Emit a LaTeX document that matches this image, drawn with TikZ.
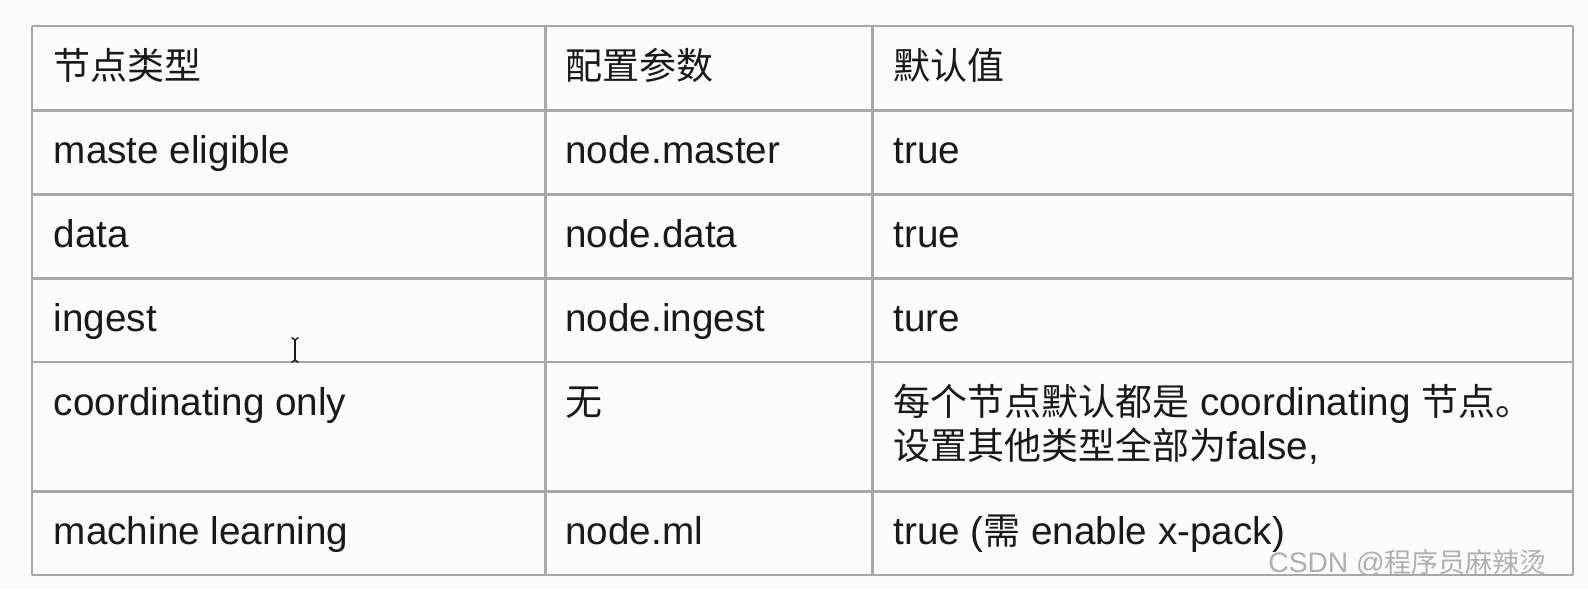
\documentclass[tikz,border=0pt]{standalone}
\usepackage{fontspec}
\setmainfont{Liberation Sans}[Scale=1.045]
\newfontfamily\cjk{Noto Sans CJK SC}
\definecolor{rulegray}{RGB}{168,168,168}
\definecolor{ink}{RGB}{25,25,25}
\definecolor{paper}{RGB}{251,252,251}
\definecolor{wmgray}{RGB}{175,175,175}

\begin{document}
\begin{tikzpicture}[x=0.5pt,y=-0.5pt,
  rule/.style={draw=rulegray,line width=1.3pt},
  cell/.style={anchor=base west,inner sep=0pt,text=ink,font=\fontsize{18.5}{22}\selectfont},
  wmark/.style={anchor=base west,inner sep=0pt,text=wmgray,font=\fontsize{13.5}{16}\selectfont}]
\useasboundingbox (0,0) rectangle (1588,590);
\fill[paper] (0,0) rectangle (1588,590);
%\draw[step=100] (0,0) grid (1588,590);
\foreach \y in {26,110.5,194.5,278.5,362,491.5,575}
  \draw[rule] (32,\y) -- (1573,\y);
\foreach \x in {32,545.5,872.5,1573}
  \draw[rule] (\x,26) -- (\x,575);
% header
\node[cell] (h1) at (53.5,79) {\cjk 节点类型};
\node[cell] (h2) at (565,79) {\cjk 配置参数};
\node[cell] (h3) at (893,79) {\cjk 默认值};
% rows
\node[cell] (m1) at (53.5,163.5) {maste eligible};
\node[cell] (m2) at (565,163.5) {node.master};
\node[cell] (m3) at (893,163.5) {true};
\node[cell] (d1) at (53.5,247.5) {data};
\node[cell] (d2) at (565,247.5) {node.data};
\node[cell] (d3) at (893,247.5) {true};
\node[cell] (i1) at (53.5,331.5) {ingest};
\node[cell] (i2) at (565,331.5) {node.ingest};
\node[cell] (i3) at (893,331.5) {ture};
\node[cell] (c1) at (53.5,415) {coordinating only};
\node[cell] (c2) at (565,415) {\cjk 无};
\node[cell] (c3) at (893,415) {{\cjk 每个节点默认都是} coordinating {\cjk 节点。}};
\node[cell] (c3b) at ([yshift=-22pt]c3.base west) {{\cjk 设置其他类型全部为}false,};
\node[cell] (l1) at (53.5,544.5) {machine learning};
\node[cell] (l2) at (565,544.5) {node.ml};
\node[cell] (l3) at (893,544.5) {true ({\cjk 需} enable x-pack)};
% cursor
\draw[ink,line width=0.7pt] (295,340) -- (295,360);
\draw[ink,line width=0.7pt] (291.5,337.5) -- (295,340) -- (298.5,337.5);
\draw[ink,line width=0.7pt] (291.5,362.5) -- (295,360) -- (298.5,362.5);
% watermark
\node[wmark] (wm) at (1268,572) {CSDN @{\cjk 程序员麻辣烫}};
\end{tikzpicture}
\end{document}
